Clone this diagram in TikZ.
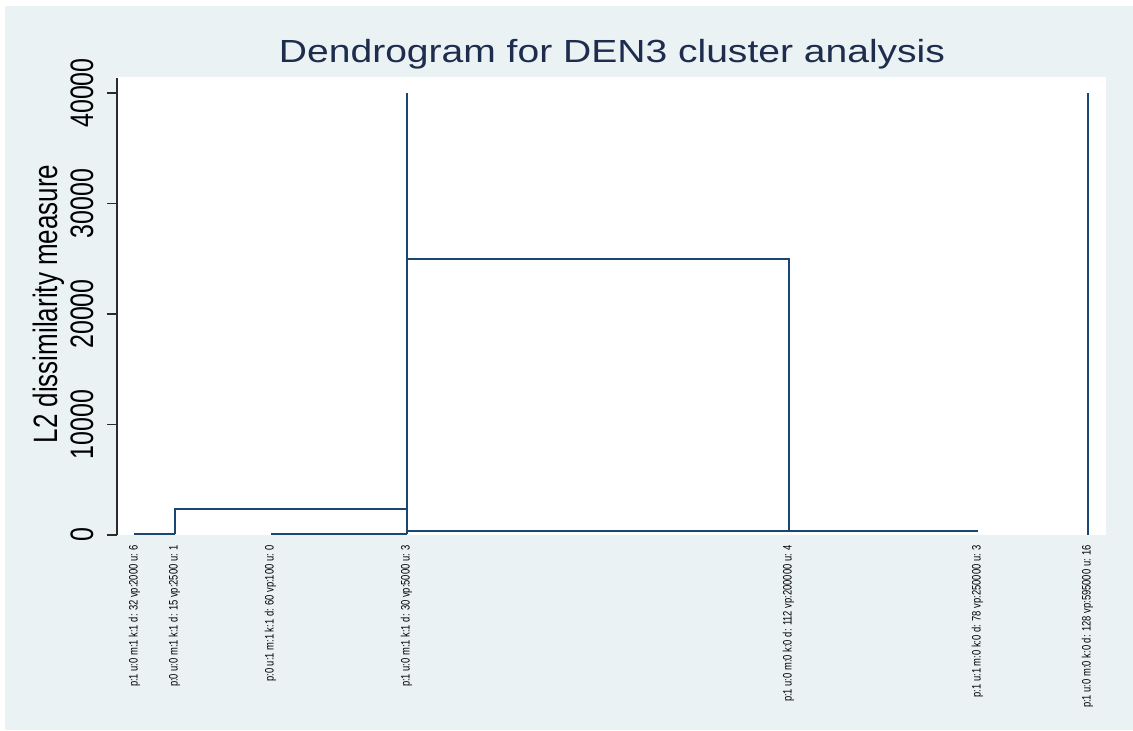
\documentclass[tikz,border=0pt]{standalone}
\usepackage{fontspec}
\setmainfont{Liberation Sans}
\usepackage{xcolor}
\usepackage{tikz}
\definecolor{DGPanel}{HTML}{EAF2F3}
\definecolor{DGNavy}{HTML}{1A476F}
\definecolor{DGTitle}{HTML}{1E2D4E}
\definecolor{DGAxis}{HTML}{2B2B2B}
\newcommand{\dgwide}[1]{\scalebox{1.22}[1]{#1}}
\newcommand{\dgtall}[1]{\scalebox{1}[1.3]{#1}}

\begin{document}
\begin{tikzpicture}[x=1pt,y=1pt]
\path[use as bounding box] (0,0) rectangle (1133,731);
\fill[white] (0,0) rectangle (1133,731);
\fill[DGPanel] (5,1) rectangle (1133,725);
\fill[white] (117,196) rectangle (1106,654);
\node[anchor=base,inner sep=0] at (612,668) {\dgwide{\fontsize{32}{32}\selectfont\color{DGTitle} Dendrogram for DEN3 cluster analysis}};
% y axis
\draw[DGAxis,line width=1.2pt] (117,196) -- (117,653);
\draw[DGAxis,line width=1.2pt] (107,196) -- (117,196);
\draw[DGAxis,line width=1.2pt] (107,306.5) -- (117,306.5);
\draw[DGAxis,line width=1.2pt] (107,417) -- (117,417);
\draw[DGAxis,line width=1.2pt] (107,527.5) -- (117,527.5);
\draw[DGAxis,line width=1.2pt] (107,638) -- (117,638);
\node[rotate=90,anchor=base,inner sep=0] at (93,196) {\dgtall{\fontsize{25}{25}\selectfont 0}};
\node[rotate=90,anchor=base,inner sep=0] at (93,306.5) {\dgtall{\fontsize{25}{25}\selectfont 10000}};
\node[rotate=90,anchor=base,inner sep=0] at (93,417) {\dgtall{\fontsize{25}{25}\selectfont 20000}};
\node[rotate=90,anchor=base,inner sep=0] at (93,527.5) {\dgtall{\fontsize{25}{25}\selectfont 30000}};
\node[rotate=90,anchor=base,inner sep=0] at (93,638) {\dgtall{\fontsize{25}{25}\selectfont 40000}};
\node[rotate=90,anchor=base,inner sep=0] at (57,427) {\dgtall{\fontsize{26}{26}\selectfont L2 dissimilarity measure}};
% branches
\draw[DGNavy,line width=2pt] (134,197) -- (175,197);
\draw[DGNavy,line width=2pt] (271,197) -- (407,197);
\draw[DGNavy,line width=2pt] (175,197) -- (175,222) -- (407,222);
\draw[DGNavy,line width=2pt] (407,197) -- (407,638);
\draw[DGNavy,line width=2pt] (407,200) -- (978,200);
\draw[DGNavy,line width=2pt] (789,200) -- (789,472) -- (407,472);
\draw[DGNavy,line width=2pt] (1088,196) -- (1088,638);
% leaves
\node[rotate=90,anchor=mid east,inner sep=0] at (135,186) {\dgtall{\fontsize{9.4}{9.4}\selectfont p:1 u:0 m:1 k:1 d: 32 vp:2000 u: 6}};
\node[rotate=90,anchor=mid east,inner sep=0] at (175,186) {\dgtall{\fontsize{9.4}{9.4}\selectfont p:0 u:0 m:1 k:1 d: 15 vp:2500 u: 1}};
\node[rotate=90,anchor=mid east,inner sep=0] at (271,186) {\dgtall{\fontsize{9.4}{9.4}\selectfont p:0 u:1 m:1 k:1 d: 60 vp:100 u: 0}};
\node[rotate=90,anchor=mid east,inner sep=0] at (407,186) {\dgtall{\fontsize{9.4}{9.4}\selectfont p:1 u:0 m:1 k:1 d: 30 vp:5000 u: 3}};
\node[rotate=90,anchor=mid east,inner sep=0] at (789,186) {\dgtall{\fontsize{9.4}{9.4}\selectfont p:1 u:0 m:0 k:0 d: 112 vp:200000 u: 4}};
\node[rotate=90,anchor=mid east,inner sep=0] at (978,186) {\dgtall{\fontsize{9.4}{9.4}\selectfont p:1 u:1 m:0 k:0 d: 78 vp:250000 u: 3}};
\node[rotate=90,anchor=mid east,inner sep=0] at (1088,186) {\dgtall{\fontsize{9.4}{9.4}\selectfont p:1 u:0 m:0 k:0 d: 128 vp:595000 u: 16}};
\end{tikzpicture}
\end{document}
